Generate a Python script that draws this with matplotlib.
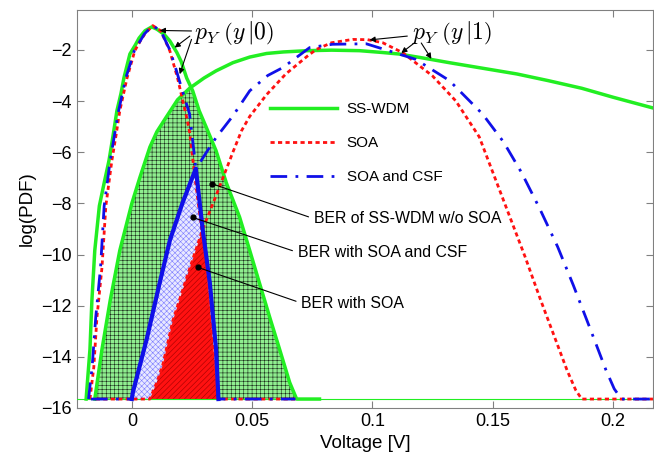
import numpy as np
import matplotlib
matplotlib.use("Agg")
import matplotlib.pyplot as plt

plt.rcParams['font.family'] = ['Liberation Sans', 'DejaVu Sans']
plt.rcParams['mathtext.fontset'] = 'cm'
plt.rcParams['hatch.linewidth'] = 0.4

# floor value of log(PDF) used in the plot
FLOOR = -15.65

# SS-WDM (green), p(y|0) and p(y|1)
ss_p0_x = [-0.019, -0.0174, -0.0166, -0.0154, -0.0135, -0.0115, -0.0095, -0.0078, -0.0062, -0.0045,
           -0.0033, -0.0008, 0.0015, 0.003, 0.0055, 0.0083, 0.0104, 0.0135, 0.0158, 0.0187,
           0.0205, 0.0228, 0.0253, 0.028, 0.031, 0.035, 0.0394, 0.0448, 0.049, 0.053,
           0.0573, 0.0614, 0.0656, 0.0685, 0.078]
ss_p0_y = [-15.65, -13.7, -11.8, -9.84, -8.1, -7.2, -6.33, -5.35, -4.38, -3.7,
           -3.1, -2.16, -1.8, -1.54, -1.25, -1.1, -1.19, -1.4, -1.65, -2.1,
           -2.45, -3.1, -3.6, -4.38, -5.04, -5.94, -7.23, -8.54, -9.84, -11.1,
           -12.45, -13.7, -15.0, -15.65, -15.65]
ss_p1_x = [-0.0154, -0.0124, -0.009, -0.005, 0.0, 0.0033, 0.0075, 0.0104, 0.0145, 0.019,
           0.024, 0.03, 0.035, 0.042, 0.049, 0.056, 0.063, 0.073, 0.083, 0.0946,
           0.104, 0.111, 0.12, 0.132, 0.146, 0.16, 0.173, 0.187, 0.2, 0.2166]
ss_p1_y = [-15.65, -13.7, -11.8, -9.84, -8.0, -7.0, -5.8, -5.2, -4.6, -3.95,
           -3.5, -3.1, -2.82, -2.5, -2.28, -2.14, -2.08, -2.03, -2.01, -2.03,
           -2.1, -2.16, -2.3, -2.5, -2.72, -2.94, -3.2, -3.5, -3.85, -4.27]

# SOA (red)
soa_p0_x = [-0.0174, -0.0158, -0.0145, -0.0124, -0.0108, -0.0083, -0.0065, -0.005, -0.002, 0.0012,
            0.0035, 0.0054, 0.0087, 0.012, 0.0158, 0.019, 0.0228, 0.024, 0.026, 0.029,
            0.0315, 0.0336, 0.0357, 0.068]
soa_p0_y = [-15.65, -14.4, -12.45, -10.5, -8.1, -6.33, -5.3, -4.38, -3.1, -2.04,
            -1.65, -1.38, -1.05, -1.25, -2.04, -3.1, -4.65, -5.2, -6.8, -9.0,
            -11.0, -13.3, -15.65, -15.65]
soa_p1_x = [-0.015, 0.0075, 0.0104, 0.0129, 0.017, 0.0228, 0.0295, 0.035, 0.042, 0.0456,
            0.049, 0.056, 0.064, 0.073, 0.0767, 0.083, 0.0918, 0.098, 0.1043, 0.1126,
            0.125, 0.1347, 0.1444, 0.1505, 0.157, 0.1635, 0.17, 0.176, 0.181, 0.1845,
            0.187, 0.2166]
soa_p1_y = [-15.65, -15.65, -15.0, -14.3, -12.6, -10.9, -9.0, -7.7, -6.0, -5.16,
            -4.6, -3.75, -2.94, -2.24, -1.98, -1.72, -1.59, -1.6, -1.72, -2.11,
            -3.02, -4.0, -5.4, -6.9, -8.5, -10.1, -11.8, -13.3, -14.55, -15.3,
            -15.65, -15.65]

# SOA and CSF (blue)
csf_p0_x = [-0.018, -0.0165, -0.015, -0.013, -0.0115, -0.009, -0.0055, -0.0025, 0.001, 0.0052,
            0.0085, 0.012, 0.0158, 0.0185, 0.0207, 0.024, 0.0253, 0.0266, 0.0295, 0.0324,
            0.035, 0.036, 0.068]
csf_p0_y = [-15.65, -14.4, -12.45, -10.5, -8.1, -6.33, -4.38, -3.1, -2.04, -1.38,
            -1.05, -1.25, -2.0, -2.8, -3.5, -4.5, -5.55, -6.64, -9.06, -11.1,
            -13.7, -15.65, -15.65]
csf_p1_x = [-0.017, 0.0, 0.0004, 0.0062, 0.0116, 0.0158, 0.021, 0.0266, 0.029, 0.0324,
            0.035, 0.042, 0.049, 0.0565, 0.0628, 0.0739, 0.0834, 0.0974, 0.107, 0.118,
            0.132, 0.1458, 0.1545, 0.162, 0.1695, 0.177, 0.1835, 0.1905, 0.197, 0.2005,
            0.2035, 0.2166]
csf_p1_y = [-15.65, -15.65, -15.4, -13.3, -11.1, -9.45, -8.0, -6.64, -6.3, -5.8,
            -5.43, -4.58, -3.6, -3.0, -2.69, -1.91, -1.78, -1.76, -2.04, -2.37,
            -3.2, -4.51, -5.6, -6.8, -8.2, -9.7, -11.2, -12.9, -14.5, -15.25,
            -15.65, -15.65]

labels = ['SS-WDM', 'SOA', 'SOA and CSF']
ber_labels = ['BER of SS-WDM w/o SOA', 'BER with SOA and CSF', 'BER with SOA']
ber_dots = [(0.0332, -7.23), (0.0253, -8.55), (0.0274, -10.5)]
ber_text = [(0.0757, -8.6), (0.069, -9.92), (0.0705, -11.9)]

GREEN = '#22ee22'
RED = '#ff1111'
BLUE = '#1010e8'


def lower_envelope(xa, ya, xb, yb, x0, x1):
    # min of two polylines between x0 and x1 (crossing points added)
    xs = np.array(sorted(set([v for v in xa + xb if x0 <= v <= x1] + [x0, x1])))
    d = (np.interp(xs, xa, ya, left=FLOOR, right=FLOOR)
         - np.interp(xs, xb, yb, left=FLOOR, right=FLOOR))
    extra = []
    for i in range(len(xs) - 1):
        if d[i] * d[i + 1] < 0:
            t = d[i] / (d[i] - d[i + 1])
            extra.append(xs[i] + t * (xs[i + 1] - xs[i]))
    xs = np.array(sorted(list(xs) + extra))
    env = np.minimum(np.interp(xs, xa, ya, left=FLOOR, right=FLOOR),
                     np.interp(xs, xb, yb, left=FLOOR, right=FLOOR))
    return xs, env


fig = plt.figure(figsize=(6.54, 4.63), dpi=100)
ax = fig.add_axes([0.1177, 0.1188, 0.8807, 0.8596])

# BER regions
gx, gy = lower_envelope(ss_p0_x, ss_p0_y, ss_p1_x, ss_p1_y, -0.0154, 0.0685)
ax.fill_between(gx, FLOOR, gy, facecolor='#8fee8f', edgecolor='#1a2a1a', hatch='++++', linewidth=0, zorder=1)
bx, by = lower_envelope(csf_p0_x, csf_p0_y, csf_p1_x, csf_p1_y, 0.0, 0.036)
ax.fill_between(bx, FLOOR, by, facecolor='#e8e8ff', edgecolor='#7c7cff', hatch='xxxxxx', linewidth=0, zorder=2)
rx, ry = lower_envelope(soa_p0_x, soa_p0_y, soa_p1_x, soa_p1_y, 0.0075, 0.0357)
ax.fill_between(rx, FLOOR, ry, facecolor=RED, edgecolor='#a00000', hatch='//////', linewidth=0, zorder=3)

ax.axhline(FLOOR, color=GREEN, lw=0.8, zorder=3)

# curves
l1, = ax.plot(ss_p0_x, ss_p0_y, color=GREEN, lw=2.5, zorder=5, label=labels[0])
ax.plot(ss_p1_x, ss_p1_y, color=GREEN, lw=2.5, zorder=5)
l2, = ax.plot(soa_p0_x, soa_p0_y, color=RED, lw=2, ls=(0, (1.5, 1.2)), zorder=6, label=labels[1])
ax.plot(soa_p1_x, soa_p1_y, color=RED, lw=2, ls=(0, (1.5, 1.2)), zorder=6)
l3, = ax.plot(csf_p0_x, csf_p0_y, color=BLUE, lw=2, ls=(0, (6, 3, 1, 3)), zorder=7, label=labels[2])
ax.plot(csf_p1_x, csf_p1_y, color=BLUE, lw=2, ls=(0, (6, 3, 1, 3)), zorder=7)
# outline of the BER region with SOA and CSF
ax.plot(bx, by, color=BLUE, lw=3, zorder=8)

# p_Y annotations
ax.text(0.0259, -1.34, r'$p_Y\;\left(y\,|0\right)$', fontsize=17, ha='left', va='center')
ax.text(0.1166, -1.34, r'$p_Y\;\left(y\,|1\right)$', fontsize=17, ha='left', va='center')
arrows = [((0.0248, -1.26), (0.0116, -1.24)), ((0.0241, -1.46), (0.0178, -1.91)),
          ((0.0248, -1.59), (0.0199, -2.95)),
          ((0.1145, -1.46), (0.0988, -1.61)), ((0.1174, -1.73), (0.112, -2.12)),
          ((0.1203, -1.73), (0.1245, -2.35))]
for start, tip in arrows:
    ax.annotate('', xy=tip, xytext=start,
                arrowprops=dict(arrowstyle='-|>', lw=0.8, color='black', mutation_scale=8,
                                shrinkA=0, shrinkB=0), zorder=10)

# BER annotations
for lab, dot, txt in zip(ber_labels, ber_dots, ber_text):
    ax.plot(dot[0], dot[1], 'o', color='black', ms=3.5, zorder=10)
    ax.annotate(lab, xy=dot, xytext=txt, fontsize=11.4, ha='left', va='center',
                arrowprops=dict(arrowstyle='-', lw=0.8, color='black', relpos=(0, 0.5),
                                shrinkA=2, shrinkB=0), zorder=10)

leg = ax.legend(handles=[l1, l2, l3], loc='upper left', bbox_to_anchor=(0.3355, 0.768),
                frameon=False, fontsize=11, handlelength=4.35, handletextpad=0.65,
                labelspacing=1.3, borderaxespad=0, borderpad=0)

ax.set_xlim(-0.0228, 0.2166)
ax.set_ylim(-16, -0.44)
ax.set_xticks([0, 0.05, 0.1, 0.15, 0.2])
ax.set_xticklabels(['0', '0.05', '0.1', '0.15', '0.2'])
ax.set_yticks([-16, -14, -12, -10, -8, -6, -4, -2])
ax.tick_params(direction='in', top=True, right=True, length=5, labelsize=13, color='#808080')
for s in ax.spines.values():
    s.set_color('#808080')
ax.set_xlabel('Voltage [V]', fontsize=13.5)
ax.set_ylabel('log(PDF)', fontsize=13.5)

fig.savefig('out.png', dpi=100)
